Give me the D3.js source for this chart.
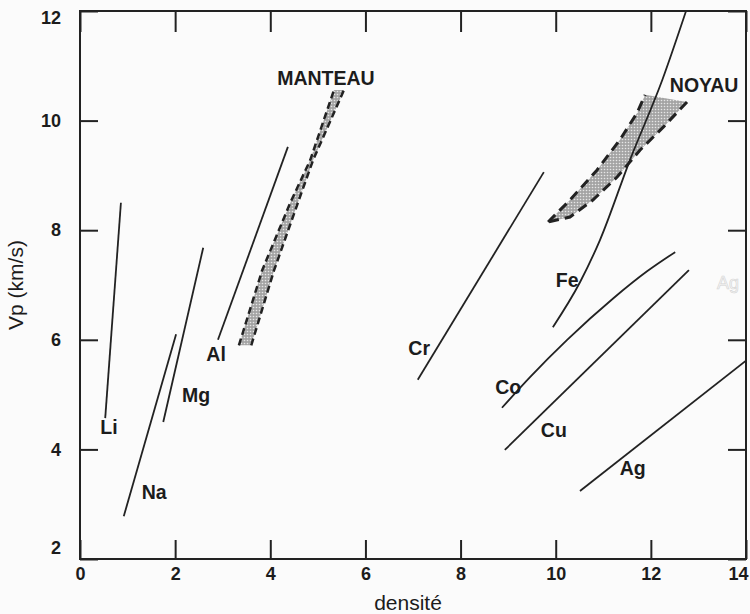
<!DOCTYPE html>
<html lang="fr">
<head>
    <meta charset="UTF-8">
    <title>Vp en fonction de la densité</title>
    <script src="https://d3js.org/d3.v7.min.js"></script>
    <style>
        body { margin: 0; background: #fbfbfb; }
        text { font-family: "Liberation Sans", Arial, sans-serif; fill: #1c1c1c; }
    </style>
</head>
<body>
    <div id="chart"></div>
    <script>
        const width = 750;
        const height = 614;

        // Axis ticks
        const xTicks = [0, 2, 4, 6, 8, 10, 12, 14];
        const yTicks = [2, 4, 6, 8, 10, 12];

        // Element lines, [densité, Vp]
        const li = [[0.53, 4.57], [0.86, 8.5]];
        const na = [[0.92, 2.78], [2.02, 6.1]];
        const mg = [[1.75, 4.5], [2.59, 7.68]];
        const al = [[2.9, 6.0], [4.37, 9.52]];
        const cr = [[7.1, 5.27], [9.75, 9.06]];
        const fe = [[9.94, 6.23], [10.51, 7.05], [10.93, 7.82], [11.56, 9.28], [12.24, 10.74], [12.74, 12.0]];
        const co = [[8.87, 4.76], [9.46, 5.32], [10.24, 6.0], [11.2, 6.75], [11.92, 7.25], [12.51, 7.6]];
        const cu = [[8.93, 3.99], [12.8, 7.27]];
        const ag = [[10.51, 3.24], [14, 5.62]];

        // Mantle band: left and right edges
        const manteauLeft = [[3.34, 5.9], [3.83, 7.27], [4.42, 8.5], [4.84, 9.28], [5.34, 10.56]];
        const manteauRight = [[3.6, 5.9], [4.08, 7.27], [4.58, 8.5], [4.9, 9.28], [5.55, 10.56]];

        // Core band: upper-left edge and lower-right edge
        const noyauUpper = [[9.84, 8.15], [10.3, 8.55], [10.87, 9.1], [11.35, 9.65], [11.71, 10.14], [11.88, 10.47]];
        const noyauLower = [[12.76, 10.34], [12.26, 9.88], [11.77, 9.46], [11.29, 8.97], [10.78, 8.55], [10.3, 8.24], [9.84, 8.15]];

        // Labels [name, densité, Vp]
        const labels = [
            ["Li", 0.61, 4.41], ["Na", 1.56, 3.22], ["Mg", 2.44, 4.99], ["Al", 2.86, 5.74],
            ["Cr", 7.13, 5.85], ["Fe", 10.24, 7.09], ["Co", 9.0, 5.14], ["Cu", 9.96, 4.35],
            ["Ag", 11.62, 3.66], ["MANTEAU", 5.17, 10.78], ["NOYAU", 13.12, 10.65]
        ];

        const x = d3.scaleLinear().domain([0, 14]).range([80, 746]);
        const y = d3.scaleLinear().domain([2, 12]).range([559, 11]);

        const svg = d3.select("#chart")
            .append("svg")
            .attr("width", width)
            .attr("height", height);

        // hatched grey fill for the bands
        const defs = svg.append("defs");
        const pat = defs.append("pattern")
            .attr("id", "hatch")
            .attr("width", 3)
            .attr("height", 3)
            .attr("patternUnits", "userSpaceOnUse");
        pat.append("rect").attr("width", 3).attr("height", 3).attr("fill", "#a4a4a4");
        pat.append("circle").attr("cx", 1.5).attr("cy", 1.5).attr("r", 0.8).attr("fill", "#e6e6e6");

        defs.append("clipPath").attr("id", "plot")
            .append("rect")
            .attr("x", x(0)).attr("y", y(12))
            .attr("width", x(14) - x(0)).attr("height", y(2) - y(12));

        const line = d3.line().x(d => x(d[0])).y(d => y(d[1]));
        const curve = d3.line().x(d => x(d[0])).y(d => y(d[1])).curve(d3.curveMonotoneX);

        const plot = svg.append("g").attr("clip-path", "url(#plot)");

        // Mantle band
        plot.append("path")
            .attr("d", line(manteauLeft.concat(manteauRight.slice().reverse())) + "Z")
            .attr("fill", "url(#hatch)");
        [manteauLeft, manteauRight].forEach(edge => {
            plot.append("path")
                .attr("d", line(edge))
                .attr("fill", "none")
                .attr("stroke", "#222")
                .attr("stroke-width", 2.5)
                .attr("stroke-dasharray", "7,4");
        });

        // Core band
        plot.append("path")
            .attr("d", line(noyauUpper.concat(noyauLower)) + "Z")
            .attr("fill", "url(#hatch)");
        [noyauUpper, noyauLower].forEach(edge => {
            plot.append("path")
                .attr("d", line(edge))
                .attr("fill", "none")
                .attr("stroke", "#222")
                .attr("stroke-width", 3)
                .attr("stroke-dasharray", "10,6");
        });

        // Element lines
        [li, na, mg, al, cr, cu, ag].forEach(pts => {
            plot.append("path")
                .attr("d", line(pts))
                .attr("fill", "none")
                .attr("stroke", "#222")
                .attr("stroke-width", 1.8);
        });
        [fe, co].forEach(pts => {
            plot.append("path")
                .attr("d", curve(pts))
                .attr("fill", "none")
                .attr("stroke", "#222")
                .attr("stroke-width", 1.8);
        });

        // Axes (ticks point inward)
        const bottom = svg.append("g")
            .attr("transform", `translate(0,${y(2)})`)
            .call(d3.axisBottom(x).tickValues(xTicks).tickSize(-19).tickSizeOuter(0).tickPadding(8));
        const left = svg.append("g")
            .attr("transform", `translate(${x(0)},0)`)
            .call(d3.axisLeft(y).tickValues(yTicks).tickSize(-18).tickSizeOuter(0).tickPadding(19));
        svg.append("g")
            .attr("transform", `translate(0,${y(12)})`)
            .call(d3.axisTop(x).tickValues(xTicks).tickSize(-21).tickSizeOuter(0).tickFormat(""));
        svg.append("g")
            .attr("transform", `translate(${x(14)},0)`)
            .call(d3.axisRight(y).tickValues(yTicks).tickSize(-18).tickSizeOuter(0).tickFormat(""));

        svg.selectAll(".domain").remove();
        svg.selectAll(".tick line").attr("stroke", "#222").attr("stroke-width", 2);
        svg.selectAll(".tick text")
            .style("font-size", "18px")
            .style("font-weight", "bold")
            .attr("fill", "#1c1c1c");
        // end labels sit a little inside the frame / page
        left.selectAll(".tick text").filter(d => d === 2).attr("dy", "-0.3em");
        left.selectAll(".tick text").filter(d => d === 12).attr("dy", "0.7em");
        bottom.selectAll(".tick text").filter(d => d === 14).attr("text-anchor", "end").attr("dx", "2");

        // frame
        svg.append("rect")
            .attr("x", x(0)).attr("y", y(12))
            .attr("width", x(14) - x(0)).attr("height", y(2) - y(12))
            .attr("fill", "none")
            .attr("stroke", "#222")
            .attr("stroke-width", 2);

        // Element labels
        svg.selectAll(".lbl")
            .data(labels)
            .enter()
            .append("text")
            .attr("class", "lbl")
            .attr("x", d => x(d[1]))
            .attr("y", d => y(d[2]))
            .attr("dy", "0.36em")
            .attr("text-anchor", "middle")
            .style("font-size", "19.5px")
            .style("font-weight", "bold")
            .text(d => d[0]);

        // faint ghost label near the right edge
        svg.append("text")
            .attr("x", x(13.62)).attr("y", y(7.04)).attr("dy", "0.36em")
            .attr("text-anchor", "middle")
            .style("font-size", "18px")
            .style("fill", "#f4f4f4")
            .style("stroke", "#d4d4d4")
            .style("stroke-width", 0.6)
            .text("Ag");

        // Axis titles
        svg.append("text")
            .attr("x", 408).attr("y", 610)
            .attr("text-anchor", "middle")
            .style("font-size", "21px")
            .text("densité");
        svg.append("text")
            .attr("transform", `translate(23,${(y(2) + y(12)) / 2}) rotate(-90)`)
            .attr("text-anchor", "middle")
            .style("font-size", "21px")
            .text("Vp (km/s)");
    </script>
</body>
</html>
